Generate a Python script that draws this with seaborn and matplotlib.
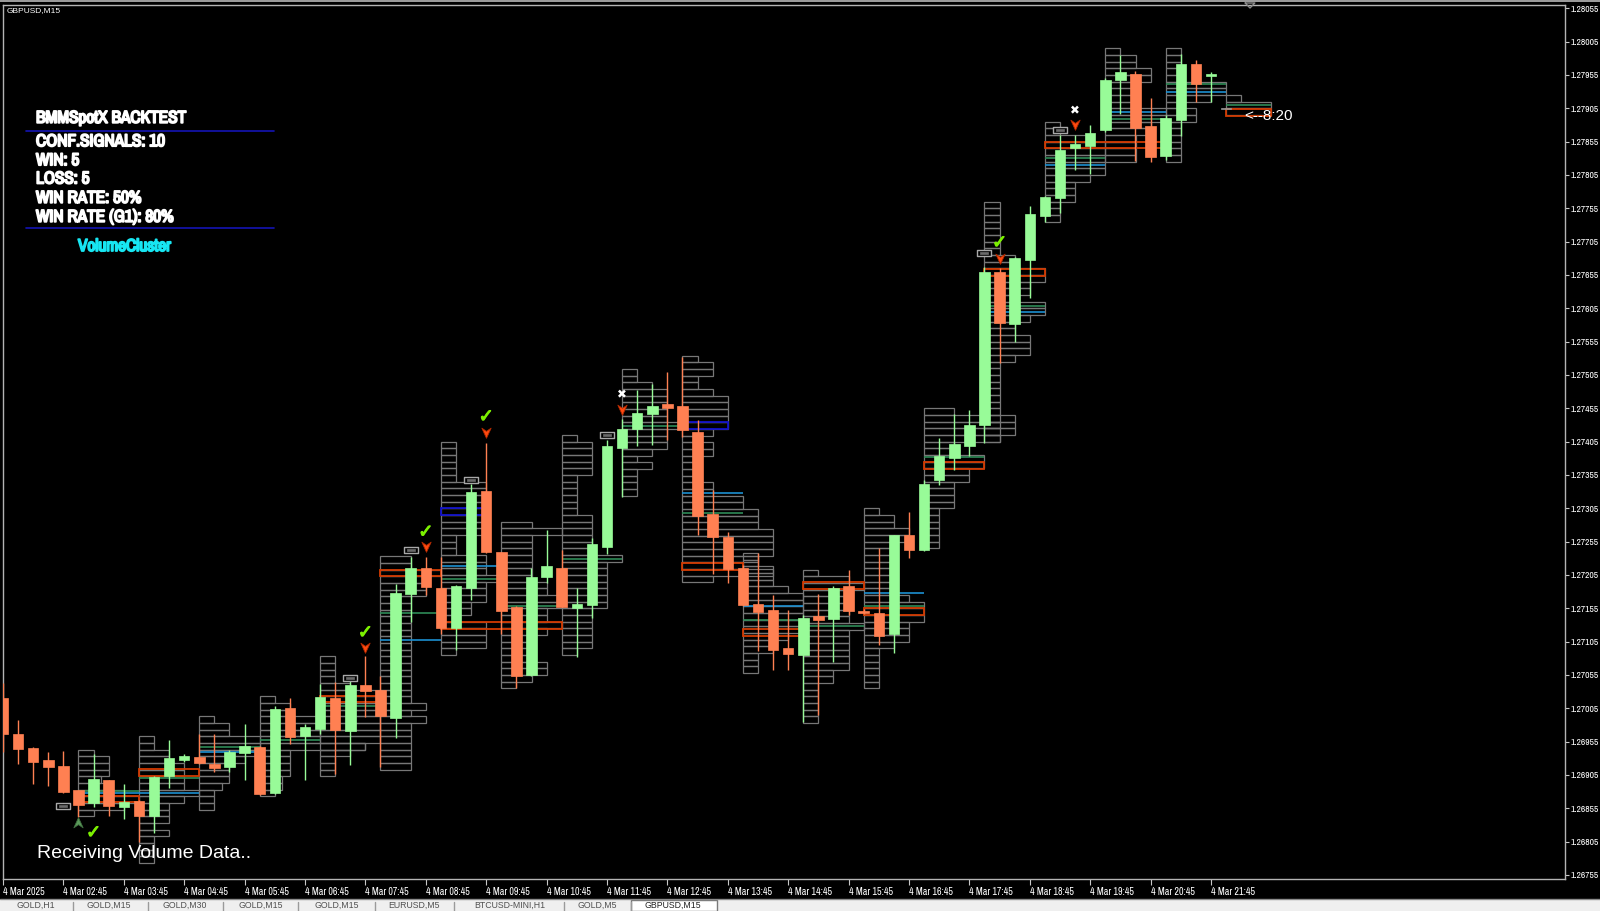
import matplotlib
matplotlib.use("Agg")
import matplotlib.pyplot as plt
import matplotlib.patheffects as pe
import seaborn as sns
import numpy as np
import pandas as pd
from matplotlib.patches import Rectangle
from matplotlib.path import Path
from matplotlib.lines import Line2D
from matplotlib import font_manager as fm

sns.set_theme(style="dark")
_entries = fm.fontManager.ttflist
_names = {f.name for f in _entries}
ARIAL = 'Liberation Sans' if 'Liberation Sans' in _names else 'DejaVu Sans'


def _condensed():
    for f in _entries:
        if 'Narrow' in f.name:
            return f.name, 'normal'
    for f in _entries:
        if 'Condensed' in f.name:
            return f.name, 'normal'
    for f in _entries:
        if str(f.stretch) in ('condensed', 'semi-condensed', 'extra-condensed') and f.name == 'DejaVu Sans':
            return f.name, 'condensed'
    for f in _entries:
        if str(f.stretch) in ('condensed', 'semi-condensed', 'extra-condensed'):
            return f.name, str(f.stretch)
    return 'DejaVu Sans', 'normal'


COND, COND_STRETCH = _condensed()
plt.rcParams['font.family'] = ['DejaVu Sans']

# ---------------- data (GBPUSD M15, 4 Mar 2025, 01:45 .. 22:00) ----------------
open_ = [1.27020, 1.26966, 1.26946, 1.26927, 1.26918, 1.26882, 1.26863, 1.26897, 1.26857, 1.26866,
         1.26844, 1.26903, 1.26927, 1.26932, 1.26922, 1.26917, 1.26938, 1.26947, 1.26878, 1.27005,
         1.26963, 1.26974, 1.27021, 1.26971, 1.27040, 1.27032, 1.26991, 1.27177, 1.27216, 1.27185,
         1.27126, 1.27186, 1.27331, 1.27239, 1.27157, 1.27055, 1.27202, 1.27216, 1.27156, 1.27160,
         1.27247, 1.27396, 1.27424, 1.27447, 1.27461, 1.27459, 1.27420, 1.27296, 1.27262, 1.27216,
         1.27162, 1.27153, 1.27095, 1.27085, 1.27143, 1.27139, 1.27188, 1.27151, 1.27148, 1.27117,
         1.27265, 1.27242, 1.27347, 1.27380, 1.27398, 1.27430, 1.27660, 1.27581, 1.27678, 1.27743,
         1.27770, 1.27846, 1.27849, 1.27872, 1.27947, 1.27957, 1.27879, 1.27833, 1.27888, 1.27971,
         1.27954, 1.27904]
high = [1.27043, 1.26988, 1.26947, 1.26939, 1.26941, 1.26883, 1.26937, 1.26898, 1.26891, 1.26867,
        1.26903, 1.26957, 1.26937, 1.26967, 1.26966, 1.26943, 1.26982, 1.26948, 1.27009, 1.27020,
        1.26982, 1.27041, 1.27044, 1.27054, 1.27083, 1.27054, 1.27192, 1.27232, 1.27232, 1.27232,
        1.27190, 1.27342, 1.27403, 1.27240, 1.27158, 1.27215, 1.27273, 1.27242, 1.27185, 1.27260,
        1.27407, 1.27439, 1.27483, 1.27491, 1.27509, 1.27532, 1.27437, 1.27332, 1.27270, 1.27220,
        1.27238, 1.27175, 1.27152, 1.27145, 1.27176, 1.27188, 1.27212, 1.27154, 1.27245, 1.27265,
        1.27299, 1.27347, 1.27410, 1.27447, 1.27452, 1.27667, 1.27665, 1.27682, 1.27758, 1.27773,
        1.27865, 1.27865, 1.27880, 1.27950, 1.27985, 1.27961, 1.27920, 1.27895, 1.27987, 1.27978,
        1.27960, 1.27904]
low = [1.26939, 1.26922, 1.26892, 1.26889, 1.26878, 1.26842, 1.26857, 1.26843, 1.26839, 1.26805,
       1.26818, 1.26885, 1.26924, 1.26921, 1.26910, 1.26910, 1.26897, 1.26875, 1.26877, 1.26952,
       1.26898, 1.26967, 1.26906, 1.26920, 1.26992, 1.26917, 1.26960, 1.27134, 1.27175, 1.27117,
       1.27092, 1.27168, 1.27238, 1.27117, 1.27035, 1.27054, 1.27193, 1.27157, 1.27082, 1.27140,
       1.27237, 1.27322, 1.27398, 1.27400, 1.27407, 1.27412, 1.27265, 1.27207, 1.27193, 1.27158,
       1.27091, 1.27063, 1.27062, 1.26985, 1.26995, 1.27075, 1.27145, 1.27146, 1.27100, 1.27088,
       1.27231, 1.27241, 1.27340, 1.27362, 1.27383, 1.27403, 1.27523, 1.27555, 1.27621, 1.27735,
       1.27748, 1.27812, 1.27806, 1.27869, 1.27897, 1.27826, 1.27825, 1.27827, 1.27863, 1.27915,
       1.27915, 1.27904]
close = [1.26966, 1.26944, 1.26924, 1.26917, 1.26879, 1.26860, 1.26899, 1.26858, 1.26865, 1.26843,
         1.26902, 1.26930, 1.26934, 1.26923, 1.26916, 1.26939, 1.26948, 1.26876, 1.27004, 1.26962,
         1.26977, 1.27022, 1.26973, 1.27040, 1.27031, 1.26993, 1.27178, 1.27216, 1.27187, 1.27125,
         1.27188, 1.27330, 1.27239, 1.27151, 1.27053, 1.27202, 1.27218, 1.27157, 1.27161, 1.27251,
         1.27398, 1.27424, 1.27448, 1.27459, 1.27456, 1.27423, 1.27293, 1.27262, 1.27214, 1.27160,
         1.27150, 1.27092, 1.27086, 1.27141, 1.27138, 1.27186, 1.27151, 1.27148, 1.27113, 1.27265,
         1.27243, 1.27342, 1.27383, 1.27401, 1.27430, 1.27660, 1.27583, 1.27681, 1.27746, 1.27772,
         1.27842, 1.27851, 1.27868, 1.27947, 1.27959, 1.27876, 1.27832, 1.27891, 1.27971, 1.27942,
         1.27957, 1.27904]

time_ticks = [0, 4, 8, 12, 16, 20, 24, 28, 32, 36, 40, 44, 48, 52, 56, 60, 64, 68, 72, 76, 80]
time_labels = ["4 Mar 2025", "4 Mar 02:45", "4 Mar 03:45", "4 Mar 04:45", "4 Mar 05:45", "4 Mar 06:45",
               "4 Mar 07:45", "4 Mar 08:45", "4 Mar 09:45", "4 Mar 10:45", "4 Mar 11:45", "4 Mar 12:45",
               "4 Mar 13:45", "4 Mar 14:45", "4 Mar 15:45", "4 Mar 16:45", "4 Mar 17:45", "4 Mar 18:45",
               "4 Mar 19:45", "4 Mar 20:45", "4 Mar 21:45"]
price_ticks = [1.26755, 1.26805, 1.26855, 1.26905, 1.26955, 1.27005, 1.27055, 1.27105, 1.27155,
               1.27205, 1.27255, 1.27305, 1.27355, 1.27405, 1.27455, 1.27505, 1.27555, 1.27605,
               1.27655, 1.27705, 1.27755, 1.27805, 1.27855, 1.27905, 1.27955, 1.28005, 1.28055]

# hourly volume clusters: first bar of the hour, top price level, row widths (in bars) from top down
cluster_start = [5, 9, 13, 17, 21, 25, 29, 33, 37, 41, 45, 49, 53, 57, 61, 65, 69, 73, 77, 81]
cluster_top = [1.26943, 1.26963, 1.26993, 1.27023, 1.27083, 1.27233, 1.27405, 1.27285, 1.27415, 1.27514,
               1.27534, 1.27238, 1.27213, 1.27305, 1.27455, 1.27765, 1.27885, 1.27995, 1.27995, 1.27925]
cluster_rows = [
    [1, 2, 2, 2, 1.5, 2, 3, 4, 3, 1],
    [1, 1, 2, 2, 3, 3, 3, 3, 4, 3, 2, 2, 2, 1, 2, 1, 1, 1, 1],
    [1, 2, 2, 4, 4, 4, 3, 2, 2, 2, 1.5, 1, 1, 1],
    [1, 2, 2, 4, 4, 4, 4, 7, 2, 2, 2, 2, 1.5, 1.5, 1],
    [1, 1, 1, 1, 2, 4, 4, 4, 4, 4, 4, 4, 4, 3, 2, 1, 1, 1],
    [2, 2, 4, 3, 3, 3, 2, 2, 2, 2, 2, 2, 2, 2, 2, 2, 2, 2, 2, 2, 2, 2, 3, 2, 3, 2, 2, 2, 2, 2, 2, 2],
    [1, 1, 1, 1, 1, 1, 3, 3, 3, 3, 3, 3, 3, 3, 1, 1, 1, 3, 3, 3, 4, 3, 3, 3, 2, 2, 1, 3, 3, 3, 3, 1],
    [2, 4, 2, 2, 2, 2, 2, 2, 2, 3, 3, 4, 4, 3, 3, 4, 3, 2, 2, 2, 2, 3, 3, 2, 1],
    [1, 2, 2, 2, 2, 2, 1, 1, 1, 1, 1, 1, 2, 2, 2, 2, 2, 2, 4, 3, 3, 3, 3, 3, 3, 3, 2, 2, 2, 2, 2, 2, 1],
    [1, 1, 2, 3, 3, 3, 3, 3, 4, 3, 3, 3, 2, 1, 2, 1, 1, 1, 1],
    [1, 2, 2, 1, 1, 2, 3, 3, 3, 3, 3, 2, 1, 2, 2, 1, 1, 1, 1, 2, 2, 4, 4, 5, 5, 5, 6, 6, 6, 6, 5, 4, 6, 2],
    [1, 1, 2, 2, 2, 3, 4, 4, 4, 4, 4, 4, 3, 2, 2, 1, 1, 1],
    [1, 3, 4, 3, 3, 3, 3, 3, 4, 3, 3, 3, 3, 3, 3, 2, 2, 1, 1, 1, 1, 1, 1],
    [1, 2, 2, 3, 3, 2, 2, 2, 2, 2, 2, 2, 2, 3, 4, 4, 4, 3, 3, 3, 2, 1, 1, 1, 1, 1, 1],
    [2, 6, 6, 6, 5, 2, 2, 4, 4, 3, 3, 2, 2, 2, 2, 1, 1, 1, 1, 1, 1],
    [1, 1, 1, 1, 1, 1, 1, 1, 2, 2, 4, 4, 3, 3, 2, 4, 4, 3, 2, 2, 3, 3, 3, 2, 1, 1, 1, 1, 1, 1, 1, 1, 1, 1, 1, 1],
    [1, 1, 3, 4, 4, 4, 4, 4, 3, 2, 2, 2, 1, 1, 1],
    [1, 2, 2, 3, 3, 2, 2, 2, 2, 4, 4, 3, 3, 2, 2, 2, 2],
    [1, 1, 1, 1, 1, 4, 4, 3, 1, 2, 2, 1, 1, 1, 1, 1, 1],
    [1, 3, 3],
]

# point-of-control boxes, value lines
poc_x = [5, 9, 21, 25, 29, 45, 49, 53, 57, 61, 65, 69, 81]
poc_price = [1.26874, 1.26914, 1.27024, 1.27213, 1.27134, 1.27223, 1.27124, 1.27194, 1.27155, 1.27374,
             1.27664, 1.27855, 1.27904]
poc_w = [4, 4, 4, 4, 8, 4, 4, 4, 4, 4, 4, 8, 3]
blue_x = [5, 9, 13, 25, 29, 45, 49, 57, 65, 69, 73, 77]
blue_price = [1.26878, 1.26878, 1.26939, 1.27108, 1.27219, 1.27328, 1.27158, 1.27178, 1.27599, 1.27820,
              1.27899, 1.27930]
green_x = [5, 9, 13, 17, 21, 25, 29, 33, 37, 41, 45, 49, 53, 57, 61, 65, 69, 73, 77, 81]
green_price = [1.26881, 1.26900, 1.26947, 1.26958, 1.27008, 1.27148, 1.27199, 1.27158, 1.27229, 1.27428,
               1.27298, 1.27138, 1.27128, 1.27158, 1.27382, 1.27608, 1.27830, 1.27889, 1.27941, 1.27910]
green_w = [4, 4, 4, 4, 4, 4, 4, 4, 4, 4, 4, 4, 4, 4, 4, 4, 4, 4, 4, 3]
navy_x = [29, 45]
navy_price = [1.27305, 1.27434]
navy_w = [3, 3]

# trade signals
box_i = [4, 23, 27, 31, 40, 65, 70]
box_p = [1.26858, 1.27050, 1.27242, 1.27347, 1.27415, 1.27688, 1.27873]
sell_i = [24, 28, 32, 41, 66, 71]
sell_p = [1.27097, 1.27248, 1.27419, 1.27454, 1.27680, 1.27881]
buy_i = [5]
buy_p = [1.26833]
win_i = [6, 24, 28, 32, 66]
win_p = [1.26818, 1.27118, 1.27269, 1.27442, 1.27703]
loss_i = [41, 71]
loss_p = [1.27475, 1.27901]

stats_title = "BMMSpotX BACKTEST"
stats_lines = ["CONF.SIGNALS: 10", "WIN: 5", "LOSS: 5", "WIN RATE: 50%", "WIN RATE (G1): 80%"]
tabs = ["GOLD,H1", "GOLD,M15", "GOLD,M30", "GOLD,M15", "GOLD,M15", "EURUSD,M5", "BTCUSD-MINI,H1",
        "GOLD,M5", "GBPUSD,M15"]
tab_centers = [36, 109, 185, 261, 337, 414, 510, 597, 673]
tab_seps = [73, 148, 223, 298, 375, 454, 564, 631]

# ---------------- figure ----------------
W, H = 1600, 911
fig = plt.figure(figsize=(16, 9.11), dpi=100)
fig.patch.set_facecolor('black')


def fx(x):
    return x / W


def fy(y):
    return 1 - y / H


PX_L, PX_R, PX_T, PX_B = 3, 1565, 5, 879
ax = fig.add_axes([fx(PX_L), fy(PX_B), (PX_R - PX_L) / W, (PX_B - PX_T) / H])
ax.set_facecolor('black')
ax.grid(False)
ax.set_xlim(0, (PX_R - PX_L) / 15.1)
ax.set_ylim(1.267488, 1.280598)
for s in ax.spines.values():
    s.set_color('#b4b4b4')
    s.set_linewidth(1.0)

PIP = 0.0001
GREY = '#777777'
for s0, top, rows in zip(cluster_start, cluster_top, cluster_rows):
    for r, w in enumerate(rows):
        ax.add_patch(Rectangle((s0, top - (r + 1) * PIP), w, PIP, fill=False,
                               edgecolor=GREY, linewidth=0.9, zorder=2))

for x0, p, w in zip(green_x, green_price, green_w):
    ax.plot([x0, x0 + w], [p, p], color='#2e8b57', lw=1.2, zorder=3, solid_capstyle='butt')
for x0, p in zip(blue_x, blue_price):
    ax.plot([x0, x0 + 4], [p, p], color='#1c8fd0', lw=1.2, zorder=3, solid_capstyle='butt')
for x0, p, w in zip(poc_x, poc_price, poc_w):
    ax.add_patch(Rectangle((x0, p - PIP), w, PIP, fill=False, edgecolor='#d23a00', linewidth=1.3, zorder=3))
for x0, p, w in zip(navy_x, navy_price, navy_w):
    ax.add_patch(Rectangle((x0, p - PIP), w, PIP, fill=False, edgecolor='#1010c8', linewidth=1.3, zorder=3))

# candles
df = pd.DataFrame({'o': open_, 'h': high, 'l': low, 'c': close})
df['i'] = np.arange(len(df))
BULL, BEAR, DOJI = '#98fb98', '#ff8052', '#9a9a9a'
cols = np.where(df['c'] > df['o'], BULL, np.where(df['c'] < df['o'], BEAR, DOJI))
ax.vlines(df['i'], df['l'], df['h'], colors=cols, linewidth=1.0, zorder=4)
body_lo = np.minimum(df['o'], df['c'])
body_h = np.maximum(np.abs(df['c'] - df['o']), 0.000012)
ax.bar(df['i'], body_h, bottom=body_lo, width=0.7, color=cols, edgecolor=cols, linewidth=0.5, zorder=5)

# signals
box_path = Path([(-1, -0.42), (1, -0.42), (1, 0.42), (-1, 0.42), (-1, -0.42)],
                [Path.MOVETO, Path.LINETO, Path.LINETO, Path.LINETO, Path.CLOSEPOLY])
inner_path = Path([(-1, -0.3), (1, -0.3), (1, 0.3), (-1, 0.3), (-1, -0.3)],
                  [Path.MOVETO, Path.LINETO, Path.LINETO, Path.LINETO, Path.CLOSEPOLY])
down_path = Path([(0, -1), (-0.8, 0.75), (0, 0.2), (0.8, 0.75), (0, -1)],
                 [Path.MOVETO, Path.LINETO, Path.LINETO, Path.LINETO, Path.CLOSEPOLY])
up_path = Path([(0, 1), (-0.8, -0.75), (0, -0.2), (0.8, -0.75), (0, 1)],
               [Path.MOVETO, Path.LINETO, Path.LINETO, Path.LINETO, Path.CLOSEPOLY])

sig = pd.DataFrame({'i': box_i, 'p': box_p})
sns.scatterplot(data=sig, x='i', y='p', marker=box_path, s=110, color='black', edgecolor='#a8a8a8',
                linewidth=1.0, ax=ax, zorder=6, legend=False)
sns.scatterplot(data=sig, x='i', y='p', marker=inner_path, s=30, color='#6a6a6a', edgecolor='#6a6a6a',
                linewidth=0.5, ax=ax, zorder=7, legend=False)
sells = pd.DataFrame({'i': sell_i, 'p': sell_p})
sns.scatterplot(data=sells, x='i', y='p', marker=down_path, s=70, color='#ff4a10', edgecolor='#b02800',
                linewidth=0.6, ax=ax, zorder=6, legend=False)
buys = pd.DataFrame({'i': buy_i, 'p': buy_p})
sns.scatterplot(data=buys, x='i', y='p', marker=up_path, s=70, color='#5a9a5a', edgecolor='#3f6f3f',
                linewidth=0.6, ax=ax, zorder=6, legend=False)
for i, p in zip(win_i, win_p):
    ax.text(i, p, '\u2713', color='#7cf000', fontsize=13, fontweight='bold', ha='center', va='center',
            zorder=8, family='DejaVu Sans',
            path_effects=[pe.withStroke(linewidth=0.8, foreground='#7cf000')])
for i, p in zip(loss_i, loss_p):
    ax.text(i, p, '\u2716', color='white', fontsize=8.5, ha='center', va='center', zorder=8,
            family='DejaVu Sans')

ax.text(81 + 1.2, 1.27894, '<--8:20', color='white', fontsize=11, ha='left', va='center',
        family=ARIAL, zorder=8)

# axes ticks
ax.set_xticks(time_ticks)
ax.set_xticklabels(time_labels, ha='left', fontsize=7.2, color='white', family=COND,
                   fontstretch=COND_STRETCH)
ax.tick_params(axis='x', colors='#c8c8c8', labelcolor='white', length=4, width=0.8, pad=1.5,
               direction='out', bottom=True)
ax.yaxis.tick_right()
ax.set_yticks(price_ticks)
ax.set_yticklabels([f"{v:.5f}" for v in price_ticks], fontsize=6.9, color='white', family=COND,
                   fontstretch=COND_STRETCH)
ax.tick_params(axis='y', colors='#c8c8c8', labelcolor='white', length=3, width=0.8, pad=1.0,
               direction='out', right=True, left=False)
ax.set_xlabel('')
ax.set_ylabel('')

# keep the price labels inside the canvas
fig.canvas.draw()
_r = fig.canvas.get_renderer()
_maxr = max(t.get_window_extent(_r).x1 for t in ax.get_yticklabels())
if _maxr > 1599:
    _f = (1599 - 1570) / (_maxr - 1570)
    for t in ax.get_yticklabels():
        t.set_fontsize(t.get_fontsize() * _f)

# ---------------- overlay texts ----------------
fig.text(fx(7), fy(11), 'GBPUSD,M15', color='white', fontsize=6, ha='left', va='center', family=ARIAL)
bold_fx = [pe.withStroke(linewidth=1.3, foreground='white')]
kw = dict(color='white', fontsize=13, fontweight='bold', ha='left', va='center', family=COND,
          fontstretch=COND_STRETCH)
t_title = fig.text(fx(36), fy(118.3), stats_title, path_effects=bold_fx, **kw)
t_lines = [fig.text(fx(36), fy(yy), txt, path_effects=bold_fx, **kw)
           for txt, yy in zip(stats_lines, [141.7, 160.7, 179.0, 198.3, 217.3])]
for yy in [131, 228.3]:
    fig.add_artist(Line2D([fx(26), fx(274)], [fy(yy), fy(yy)], color='#1414b4', lw=1.2))
t_vc = fig.text(fx(78), fy(246.5), 'VolumeCluster',
                path_effects=[pe.withStroke(linewidth=1.3, foreground='#17e6f2')],
                **dict(kw, color='#17e6f2'))
fig.text(fx(37), fy(854), 'Receiving Volume Data..', color='white', fontsize=14, ha='left', va='center',
         family=ARIAL)

fig.canvas.draw()
_w = t_title.get_window_extent(_r).width
if _w > 152:
    _scale = 150.0 / _w
    for t in [t_title, t_vc] + t_lines:
        t.set_fontsize(t.get_fontsize() * _scale)

# window frame pieces
fig.add_artist(Rectangle((0, fy(2)), 1, 2 / H, transform=fig.transFigure, color='#9a9a9a', lw=0))
fig.add_artist(Line2D([fx(1250) - 0.003, fx(1250) + 0.003, fx(1250), fx(1250) - 0.003],
                      [fy(3), fy(3), fy(8), fy(3)], color='#8a8a8a', lw=1))

# tab bar
fig.add_artist(Rectangle((0, 0), 1, (H - 899) / H, transform=fig.transFigure, color='#efefef', lw=0))
fig.add_artist(Line2D([0, 1], [fy(899), fy(899)], color='#8c8c8c', lw=1))
fig.add_artist(Rectangle((fx(631), 0), (717 - 631) / W, (H - 900) / H, transform=fig.transFigure,
                         facecolor='white', edgecolor='#7a7a7a', lw=1))
for xs in tab_seps:
    fig.add_artist(Line2D([fx(xs), fx(xs)], [0, fy(902)], color='#9a9a9a', lw=1))
for t, xc in zip(tabs, tab_centers):
    fig.text(fx(xc), fy(905.5), t, color='#505050' if t != 'GBPUSD,M15' else '#202020', fontsize=6.3,
             ha='center', va='center', family=ARIAL)

fig.savefig('out.png', dpi=100, facecolor='black')
